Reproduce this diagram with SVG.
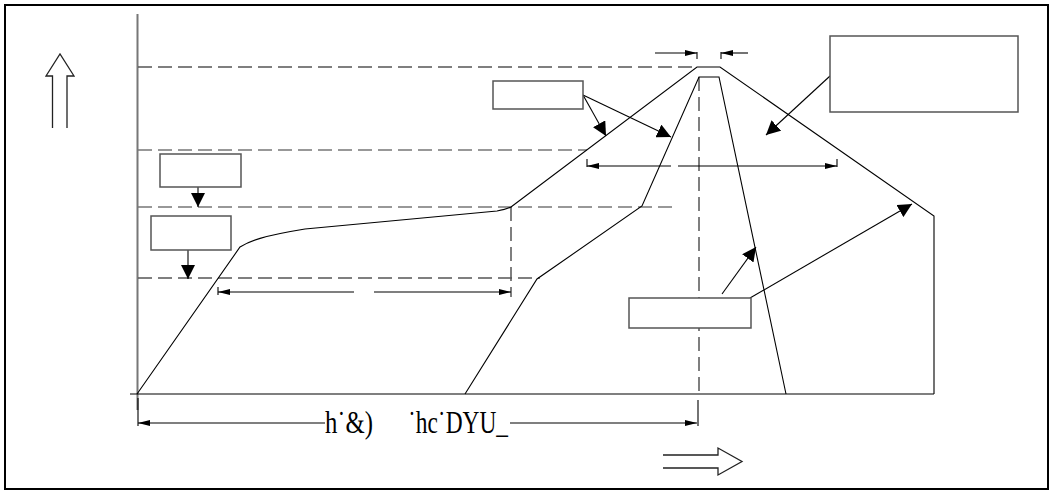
<svg xmlns="http://www.w3.org/2000/svg" width="1054" height="495" viewBox="0 0 1054 495">
<style>
.frame{fill:none;stroke:#000;stroke-width:2}
.axis{fill:none;stroke:#777;stroke-width:2}
.dash{fill:none;stroke:#555;stroke-width:1.5;stroke-dasharray:14 6}
.dashg{fill:none;stroke:#777;stroke-width:1.6;stroke-dasharray:14 6}
.curve{fill:none;stroke:#000;stroke-width:1.1}
.box{fill:#fff;stroke:#555;stroke-width:1.5}
.ptr{fill:none;stroke:#000;stroke-width:1.1;marker-end:url(#big)}
.dim{fill:none;stroke:#000;stroke-width:1.1}
.dim2{fill:none;stroke:#000;stroke-width:1.1;marker-end:url(#small)}
.tick{fill:none;stroke:#000;stroke-width:1.1}
.hollow{fill:none;stroke:#222;stroke-width:1.3}
.lbl{font-family:"Liberation Serif","Times New Roman",serif;font-size:32px;fill:#000}
</style>
<defs>
<marker id="big" viewBox="0 0 14 14" markerWidth="14" markerHeight="14" refX="14" refY="7" orient="auto" markerUnits="userSpaceOnUse"><path d="M0,0 L14,7 L0,14 z" fill="#000"/></marker>
<marker id="small" viewBox="0 0 12 6" markerWidth="12" markerHeight="6" refX="12" refY="3" orient="auto" markerUnits="userSpaceOnUse"><path d="M0,0 L12,3 L0,6 z" fill="#000"/></marker>
</defs>
<rect class="frame" x="5" y="5" width="1043" height="484"/>
<g id="axes">
<line class="axis" x1="137.5" y1="14" x2="137.5" y2="410"/>
<line class="curve" x1="130" y1="394" x2="934" y2="394"/>
</g>
<g id="guides">
<line class="dash" x1="138" y1="67" x2="697" y2="67"/>
<line class="dashg" x1="138" y1="150" x2="587" y2="150"/>
<line class="dashg" x1="138" y1="207" x2="673" y2="207"/>
<line class="dash" x1="138" y1="278" x2="540" y2="278"/>
<line class="dash" x1="511" y1="207" x2="511" y2="297"/>
<line class="dash" x1="699" y1="77" x2="699" y2="394"/>
</g>
<g id="curves">
<path class="curve" d="M137,394 L240,247 C250,241 262,236 305,229 L497,211 C503,210 507,209 511,207 L697,67 L720,67 L934,216 L934,394"/>
<path class="curve" d="M465,394 L537,279 L642,206 L699,77 L719,77 L786,394"/>
</g>
<g id="dimensions">
<line class="dim2" x1="354" y1="292" x2="218" y2="292"/>
<line class="dim2" x1="374" y1="292" x2="511" y2="292"/>
<line class="tick" x1="218" y1="287" x2="218" y2="295"/>
<line class="dim2" x1="671" y1="166" x2="587" y2="166"/>
<line class="dim2" x1="678" y1="166" x2="837" y2="166"/>
<line class="tick" x1="587" y1="159" x2="587" y2="167"/>
<line class="tick" x1="837" y1="159" x2="837" y2="167"/>
<line class="dim2" x1="655" y1="53" x2="697" y2="53"/>
<line class="tick" x1="697" y1="52" x2="697" y2="59"/>
<line class="dim2" x1="748" y1="53" x2="721" y2="53"/>
<line class="tick" x1="721" y1="52" x2="721" y2="59"/>
<line class="dim2" x1="325" y1="423" x2="138" y2="423"/>
<line class="dim2" x1="510" y1="423" x2="697" y2="423"/>
<line class="tick" x1="138" y1="398" x2="138" y2="426"/>
<line class="tick" x1="698" y1="400" x2="698" y2="426"/>
<text class="lbl" x="325" y="433" textLength="48" lengthAdjust="spacingAndGlyphs">h˙&amp;)</text>
<text class="lbl" x="408" y="433" textLength="100" lengthAdjust="spacingAndGlyphs">˙hc˙DYU_</text>
</g>
<g id="hollow-arrows">
<polyline class="hollow" points="52.5,128 52.5,76 46,76 60,54 74,76 67,76 67,128"/>
<polyline class="hollow" points="663,455 718,455 718,448 742,461.5 718,475 718,468 663,468"/>
</g>
<g id="connectors">
<line class="ptr" x1="198" y1="187" x2="198" y2="207"/>
<line class="ptr" x1="188" y1="250" x2="188" y2="279"/>
<line class="ptr" x1="583" y1="95" x2="606" y2="136"/>
<line class="ptr" x1="583" y1="95" x2="671" y2="137"/>
<line class="ptr" x1="830" y1="76" x2="766" y2="135"/>
<line class="ptr" x1="722" y1="294" x2="756" y2="247"/>
<line class="ptr" x1="750" y1="298" x2="912" y2="204"/>
</g>
<g id="nodeA"><rect class="box" x="160" y="154" width="81" height="33"/></g>
<g id="nodeB"><rect class="box" x="151" y="216" width="80" height="34"/></g>
<g id="nodeC"><rect class="box" x="493" y="81" width="90" height="28"/></g>
<g id="nodeD"><rect class="box" x="830" y="36" width="188" height="76"/></g>
<g id="nodeE"><rect class="box" x="629" y="298" width="122" height="30"/></g>
</svg>
